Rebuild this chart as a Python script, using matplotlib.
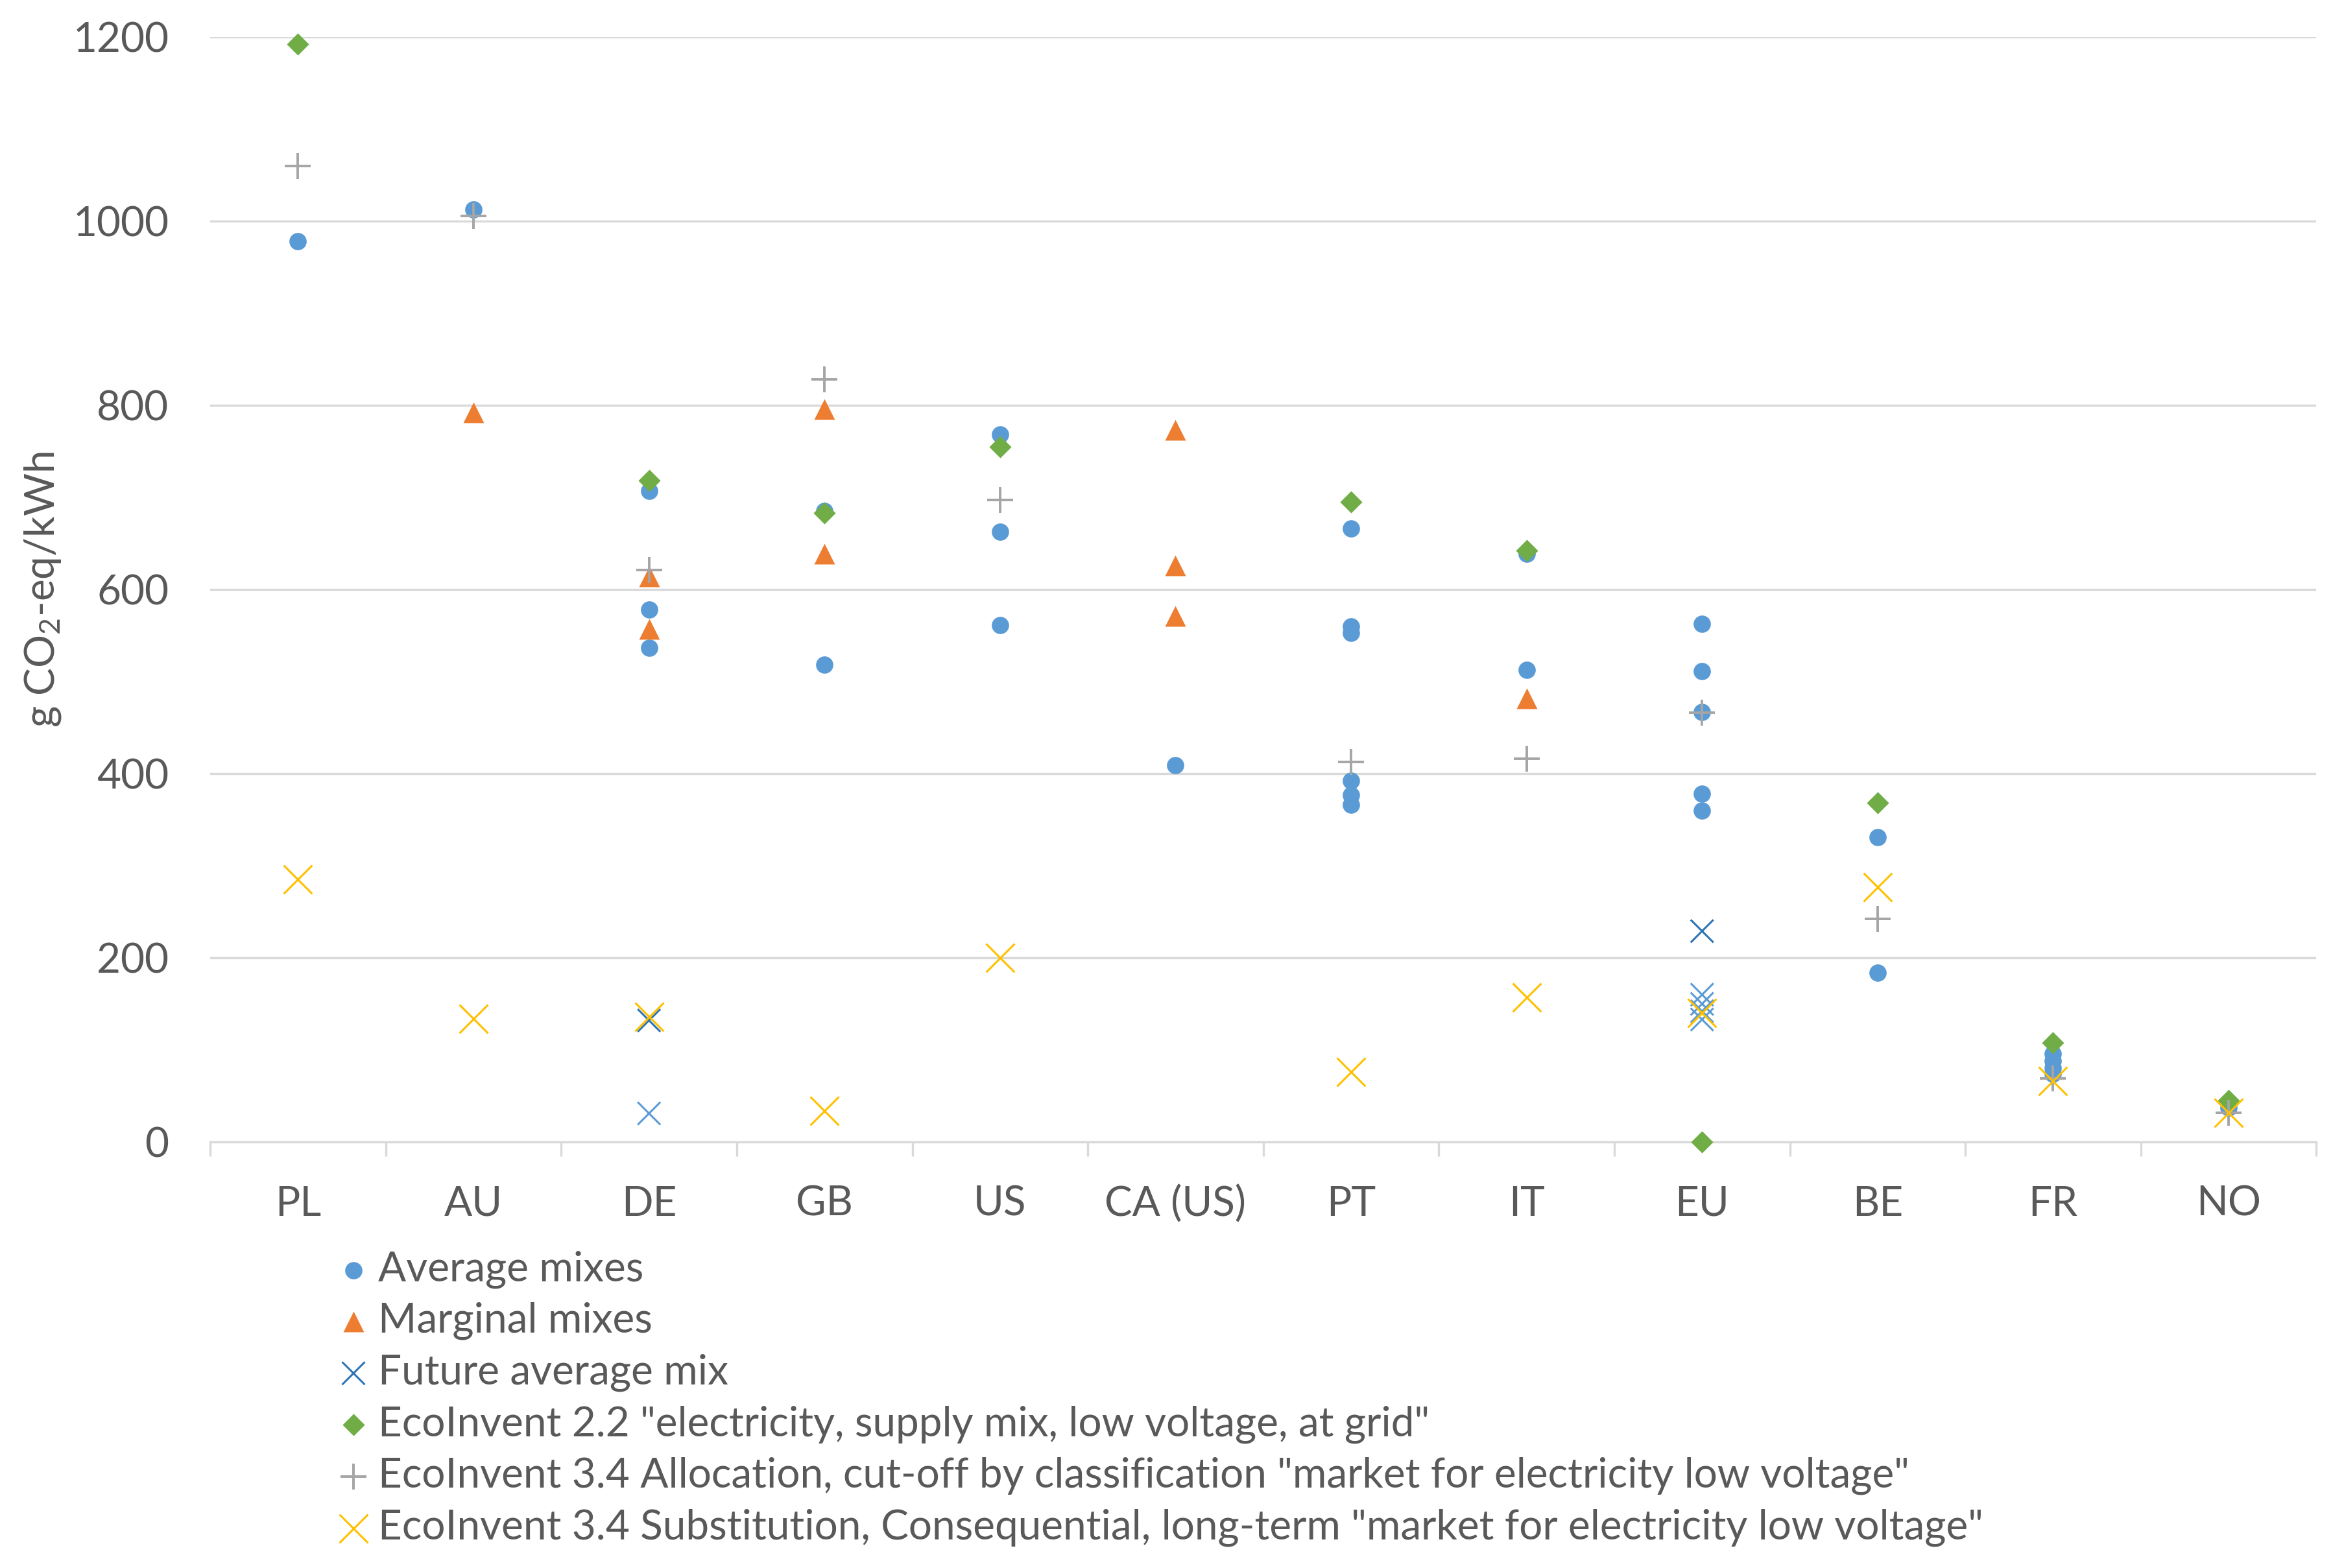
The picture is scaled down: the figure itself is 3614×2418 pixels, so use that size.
import numpy as np
import matplotlib
matplotlib.use("Agg")
import matplotlib.pyplot as plt

plt.rcParams['font.family'] = ['Lato', 'DejaVu Sans']
plt.rcParams['mathtext.fontset'] = 'custom'
plt.rcParams['mathtext.rm'] = 'Lato'
plt.rcParams['mathtext.it'] = 'Lato:italic'

countries = ["PL", "AU", "DE", "GB", "US", "CA (US)", "PT", "IT", "EU", "BE", "FR", "NO"]

# Average mixes
avg_cats = ["PL", "AU", "DE", "DE", "DE", "GB", "GB", "US", "US", "US", "CA (US)",
            "PT", "PT", "PT", "PT", "PT", "PT", "IT", "IT",
            "EU", "EU", "EU", "EU", "EU", "BE", "BE", "FR", "FR", "FR", "FR", "NO"]
avg_vals = [978, 1013, 707, 578, 537, 685, 518, 768, 663, 561, 409,
            666, 560, 553, 392, 377, 366, 639, 513,
            563, 511, 467, 378, 360, 331, 184, 96, 88, 80, 74, 37]

# Marginal mixes
marg_cats = ["AU", "DE", "DE", "GB", "GB", "CA (US)", "CA (US)", "CA (US)", "IT"]
marg_vals = [792, 614, 557, 796, 639, 773, 626, 571, 482]

# Future average mix
fut_cats = ["DE", "DE", "EU", "EU", "EU", "EU", "EU"]
fut_vals = [132, 31, 229, 160, 150, 142, 133]
fut_colors = ["#2e75b6", "#5b9bd5", "#2e75b6", "#5b9bd5", "#5b9bd5", "#5b9bd5", "#5b9bd5"]

# EcoInvent 2.2
ei22_cats = ["PL", "DE", "GB", "US", "PT", "IT", "EU", "BE", "FR", "NO"]
ei22_vals = [1192, 718, 683, 755, 695, 642, 0, 368, 108, 45]

# EcoInvent 3.4 allocation, cut-off
ei34a_cats = ["PL", "AU", "DE", "GB", "US", "PT", "IT", "EU", "BE", "FR", "NO"]
ei34a_vals = [1060, 1006, 621, 828, 697, 413, 416, 466, 242, 69, 32]

# EcoInvent 3.4 substitution, consequential
ei34s_cats = ["PL", "AU", "DE", "GB", "US", "PT", "IT", "EU", "BE", "FR", "NO"]
ei34s_vals = [285, 134, 136, 34, 200, 76, 157, 140, 277, 66, 32]

labels = [
    "Average mixes",
    "Marginal mixes",
    "Future average mix",
    'EcoInvent 2.2 "electricity, supply mix, low voltage, at grid"',
    'EcoInvent 3.4 Allocation, cut-off by classification "market for electricity low voltage"',
    'EcoInvent 3.4 Substitution, Consequential, long-term "market for electricity low voltage"',
]

text_col = "#595959"
grid_col = "#d9d9d9"
fs = 23


def xpos(cats):
    return [countries.index(c) for c in cats]


fig = plt.figure(figsize=(18.07, 12.09), dpi=200)
ax = fig.add_axes([0.0897, 0.2717, 0.8985, 0.7047])

ax.scatter(xpos(avg_cats), avg_vals, marker='o', s=9.6**2, color='#5b9bd5',
           linewidths=0, label=labels[0], clip_on=False, zorder=3)
ax.scatter(xpos(marg_cats), marg_vals, marker='^', s=11.5**2, color='#ed7d31',
           linewidths=0, label=labels[1], clip_on=False, zorder=3)
ax.scatter(xpos(fut_cats), fut_vals, marker='x', s=12.6**2, c=fut_colors,
           linewidths=1.1, label=labels[2], clip_on=False, zorder=3)
ax.scatter(xpos(ei22_cats), ei22_vals, marker='D', s=8.7**2, color='#70ad47',
           linewidths=0, label=labels[3], clip_on=False, zorder=3)
ax.scatter(xpos(ei34a_cats), ei34a_vals, marker='+', s=14.4**2, color='#a5a5a5',
           linewidths=1.4, label=labels[4], clip_on=False, zorder=3)
ax.scatter(xpos(ei34s_cats), ei34s_vals, marker='x', s=15.8**2, color='#ffc000',
           linewidths=1.1, label=labels[5], clip_on=False, zorder=3)

ax.set_ylim(0, 1200)
ax.set_yticks(range(0, 1201, 200))
ax.set_xlim(-0.5, len(countries) - 0.5)
ax.set_xticks(range(len(countries)))
ax.set_xticklabels(countries)
ax.set_xticks(np.arange(-0.5, len(countries), 1), minor=True)

ax.set_axisbelow(True)
ax.yaxis.grid(True, color=grid_col, linewidth=1.2)
for side in ["top", "right", "left"]:
    ax.spines[side].set_visible(False)
ax.spines["bottom"].set_color(grid_col)
ax.spines["bottom"].set_linewidth(1.2)

ax.tick_params(axis='y', length=0, pad=23, labelsize=fs, labelcolor=text_col)
ax.tick_params(axis='x', which='major', length=0, pad=24, labelsize=fs, labelcolor=text_col)
ax.tick_params(axis='x', which='minor', length=8, width=1.2, color=grid_col, direction='out')

ax.set_ylabel('g CO$_2$-eq/kWh', fontsize=fs, color=text_col)
ax.yaxis.set_label_coords(-0.070, 0.5)

leg = fig.legend(loc='upper left', bbox_to_anchor=(0.1455, 0.2025), frameon=False,
                 fontsize=fs, scatterpoints=1, handlelength=0.6, handletextpad=0.3,
                 labelspacing=0.33, borderpad=0, borderaxespad=0)
for t in leg.get_texts():
    t.set_color(text_col)

fig.savefig("out.png", dpi=200)
